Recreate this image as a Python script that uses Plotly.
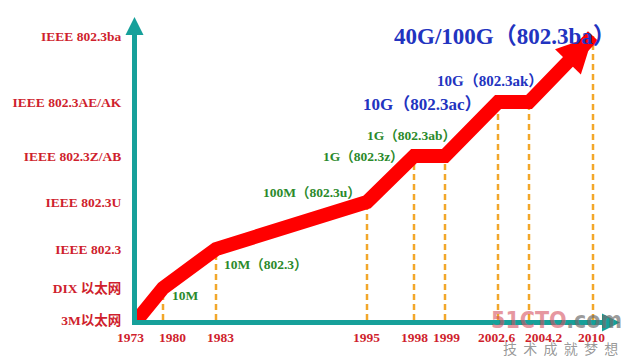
import math
import plotly.graph_objects as go

# ---------------- data ----------------
years = ["1973", "1980", "1983", "1995", "1998", "1999", "2002.6", "2004.2", "2010"]
levels = ["3M以太网", "DIX 以太网", "IEEE 802.3", "IEEE 802.3U", "IEEE 802.3Z/AB",
          "IEEE 802.3AE/AK", "IEEE 802.3ba"]
level_of_year = [0, 1, 2, 3, 4, 4, 5, 5, 6]
milestones = ["", "10M", "10M（802.3）", "100M（802.3u）", "1G（802.3z）", "1G（802.3ab）",
              "10G（802.3ac）", "10G（802.3ak）", "40G/100G（802.3ba）"]

# ---------------- layout of the (non-linear) timeline ----------------
year_slot = [0, 26, 79, 230, 277, 308, 361, 392, 456]
level_slot = [0, 32, 71, 118, 164, 218, 284]
ML, MR, MT, MB = 137, 17, 25, 43
W, H = 629, 363
X_MAX, Y_MAX = W - ML - MR, H - MT - MB      # 1 axis unit == 1 px
year_label_shift = [-7, 9, 4, -1, 0, 1, -2, 14, -2]

# label styles: (xanchor, xshift, yshift, size, colour)
GREEN, BLUE, DARKRED, TEAL, RED = "#2b8a2b", "#2233c0", "#cf1f2e", "#16a09a", "#ff0000"
label_style = [
    None,
    ("left", 7, -7, 13.5, GREEN),
    ("left", 6, -15, 13.5, GREEN),
    ("right", -4, 10, 13.5, GREEN),
    ("right", -8, 0, 13.5, GREEN),
    ("right", 13, 21, 13.5, GREEN),
    ("right", -14, -2, 17, BLUE),
    ("right", 16, 21, 15, BLUE),
    ("right", 25, 0, 23, BLUE),
]

SERIF = "Liberation Serif, Times New Roman, Noto Sans CJK SC, serif"

line_x = year_slot
line_y = [level_slot[l] for l in level_of_year]

fig = go.Figure()

# orange dashed drop lines
dx, dy = [], []
for xv, yv in zip(line_x[1:], line_y[1:]):
    dx += [xv, xv, None]
    dy += [0, yv, None]
fig.add_trace(go.Scatter(x=dx, y=dy, mode="lines", hoverinfo="skip",
                         line=dict(color="#f2a72a", width=2.5, dash="6px,4px")))

# red growth line (ends a little before the arrow tip)
fig.add_trace(go.Scatter(
    x=line_x, y=line_y, mode="lines", hoverinfo="skip",
    line=dict(color=RED, width=14, backoff=[0] * (len(line_x) - 1) + [20])))

# red arrow head, computed from the last segment's direction
HEAD_L, HEAD_W = 36, 18
ux, uy = line_x[-1] - line_x[-2], line_y[-1] - line_y[-2]
n = math.hypot(ux, uy)
ux, uy = ux / n, uy / n
tx, ty = line_x[-1], line_y[-1]
bx, by = tx - HEAD_L * ux, ty - HEAD_L * uy
fig.add_shape(type="path", xref="x", yref="y", fillcolor=RED, line=dict(width=0),
              path="M%f,%f L%f,%f L%f,%f Z" % (tx, ty, bx - HEAD_W * uy, by + HEAD_W * ux,
                                               bx + HEAD_W * uy, by - HEAD_W * ux))

# teal axis arrow heads (pixel sized, anchored at the axis ends)
fig.add_shape(type="path", xref="paper", yref="paper", xsizemode="pixel", ysizemode="pixel",
              xanchor=0, yanchor=1, fillcolor=TEAL, line=dict(width=0),
              path="M-11.5,-10 L6.5,-10 L-2.5,8 Z")
fig.add_shape(type="path", xref="paper", yref="paper", xsizemode="pixel", ysizemode="pixel",
              xanchor=1, yanchor=0, fillcolor=TEAL, line=dict(width=0),
              path="M-10,6.5 L-10,-11.5 L8,-2.5 Z")

# milestone labels
for i, txt in enumerate(milestones):
    if not txt:
        continue
    xa, xs, ys, sz, col = label_style[i]
    fig.add_annotation(x=line_x[i], y=line_y[i], text="<b>%s</b>" % txt,
                       showarrow=False, xanchor=xa, yanchor="middle",
                       xshift=xs, yshift=ys,
                       font=dict(family=SERIF, size=sz, color=col))

# year labels under the time axis
for xv, yr, sh in zip(year_slot, years, year_label_shift):
    fig.add_annotation(x=xv, y=0, text="<b>%s</b>" % yr, showarrow=False,
                       xanchor="center", yanchor="middle", xshift=sh, yshift=-17,
                       font=dict(family=SERIF, size=13.5, color=DARKRED))

# watermark
fig.add_annotation(xref="paper", yref="paper", x=1.0, y=0.0, xanchor="right", yanchor="middle",
                   xshift=12,
                   text="<b><span style='color:rgba(214,80,96,0.6)'>51CTO</span>"
                        "<span style='color:rgba(110,110,110,0.7)'>.com</span></b>",
                   showarrow=False,
                   font=dict(family="DejaVu Sans Condensed, Arial Narrow, sans-serif", size=23))
fig.add_annotation(xref="paper", yref="paper", x=1.0, y=0.0, xanchor="right", yanchor="middle",
                   xshift=8, yshift=-28,
                   text="技  术  成  就  梦  想", showarrow=False,
                   font=dict(family="Noto Sans CJK SC", size=14, color="rgba(140,140,140,0.9)"))

fig.update_layout(
    width=W, height=H,
    margin=dict(l=ML, r=MR, t=MT, b=MB),
    paper_bgcolor="white", plot_bgcolor="white",
    showlegend=False,
    xaxis=dict(range=[0, X_MAX], showgrid=False, zeroline=False, automargin=False,
               showline=True, linecolor=TEAL, linewidth=5,
               showticklabels=False, ticks="", fixedrange=True),
    yaxis=dict(range=[0, Y_MAX], showgrid=False, zeroline=False, automargin=False,
               showline=True, linecolor=TEAL, linewidth=5,
               tickvals=level_slot, ticktext=levels, ticks="", ticklabelstandoff=8,
               tickfont=dict(family=SERIF, size=13.5, color=DARKRED, weight="bold"),
               fixedrange=True),
)

fig.write_html("out.html", config={"displayModeBar": False},
               post_script="document.body.style.margin='0';document.body.style.overflow='hidden';")
